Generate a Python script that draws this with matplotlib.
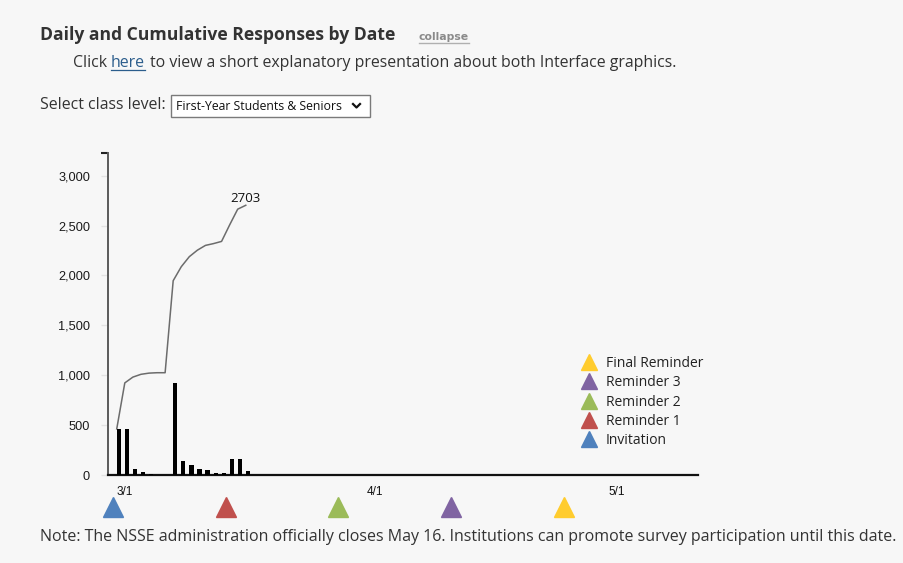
import numpy as np
import matplotlib
matplotlib.use("Agg")
import matplotlib.pyplot as plt
import matplotlib.dates as mdates
from matplotlib.ticker import FixedLocator, StrMethodFormatter, FuncFormatter
from matplotlib.lines import Line2D
from matplotlib.patches import Rectangle

# ---------------- data ----------------
response_dates = np.arange(np.datetime64("2023-02-28"), np.datetime64("2023-03-17"))
daily_responses = [462, 461, 58, 28, 12, 4, 0, 922, 140, 101, 65, 48, 18, 22, 165, 158, 39]
event_names = ["Invitation", "Reminder 1", "Reminder 2", "Reminder 3", "Final Reminder"]
event_dates = np.array(["2023-02-27", "2023-03-13", "2023-03-27", "2023-04-10", "2023-04-24"],
                       dtype="datetime64[D]")
event_colors = ["#4F81BD", "#C0504D", "#9BBB59", "#8064A2", "#FFCC2E"]
month_ticks = np.array(["2023-03-01", "2023-04-01", "2023-05-01"], dtype="datetime64[D]")
yticks = [0, 500, 1000, 1500, 2000, 2500, 3000]

cumulative = np.cumsum(daily_responses)

# ---------------- figure ----------------
W, H = 904, 563
BG = "#f7f7f7"
fig = plt.figure(figsize=(W / 100, H / 100), dpi=100, facecolor=BG)
UI = ["Open Sans", "DejaVu Sans"]
AX = ["Liberation Sans", "DejaVu Sans"]

def fx(x):
    return x / W

def fy(y):
    return 1 - y / H

# main axes (pixel box: x 108..698, y 153..475)
ax = fig.add_axes([fx(108), fy(475), (698 - 108) / W, (475 - 152.7) / H])
ax.set_facecolor("none")

ax.bar(response_dates, daily_responses, width=0.52, align="edge", color="black", zorder=3)
ax.plot(response_dates, cumulative, color="#6c6c6c", lw=1.1, zorder=2)
ax.annotate(f"{cumulative[-1]}", (response_dates[-1], cumulative[-1]), xytext=(0, 2.5),
            textcoords="offset points", ha="center", va="baseline",
            fontsize=9.5, family=UI, color="#111111")

ax.set_xlim(np.datetime64("2023-02-26T22:00"), np.datetime64("2023-05-11T02:00"))
ymax = 3230
ax.set_ylim(0, ymax)

ax.yaxis.set_major_locator(FixedLocator(yticks))
ax.yaxis.set_major_formatter(StrMethodFormatter("{x:,.0f}"))
ax.yaxis.set_minor_locator(FixedLocator([0, ymax]))
ax.tick_params(axis="y", which="major", length=5, width=1, color="#e3e3e3", pad=8,
               labelsize=9.2, labelcolor="#1a1a1a")
ax.tick_params(axis="y", which="minor", length=5, width=1.5, color="#222222")
for lab in ax.get_yticklabels():
    lab.set_family(AX)

ax.xaxis.set_major_locator(FixedLocator(mdates.date2num(month_ticks)))
ax.xaxis.set_major_formatter(FuncFormatter(
    lambda v, p: f"{mdates.num2date(v).month}/{mdates.num2date(v).day}"))
ax.tick_params(axis="x", length=0, pad=8, labelsize=8.5, labelcolor="#111111")
for lab in ax.get_xticklabels():
    lab.set_family(AX)

for s in ["top", "right"]:
    ax.spines[s].set_visible(False)
ax.spines["left"].set_color("#5a5a5a")
ax.spines["left"].set_linewidth(1.4)
ax.spines["bottom"].set_color("#111111")
ax.spines["bottom"].set_linewidth(1.6)

# event triangles under the axis
trans = ax.get_xaxis_transform()
event_centers = event_dates.astype("datetime64[h]") + np.timedelta64(12, "h")
for d, c in zip(event_centers, event_colors):
    ax.plot([d], [-0.098], marker="^", ms=14, color=c, ls="none",
            transform=trans, clip_on=False, zorder=4)

# legend
handles = [Line2D([], [], marker="^", ls="none", color=c, ms=12)
           for c in event_colors][::-1]
labels = event_names[::-1]
leg = ax.legend(handles, labels, loc="upper left", bbox_to_anchor=(fx(582), fy(356)),
                bbox_transform=fig.transFigure, frameon=False, handlelength=1.0,
                handletextpad=0.7, labelspacing=0.31, borderpad=0, borderaxespad=0,
                prop={"family": UI, "size": 10})
for t in leg.get_texts():
    t.set_color("#222222")

# ---------------- header / footer text ----------------
renderer = fig.canvas.get_renderer()

fig.text(fx(40), fy(40), "Daily and Cumulative Responses by Date", family=UI,
         fontsize=12.6, weight="bold", color="#333333", va="baseline")
tc = fig.text(fx(419), fy(39.5), "collapse", family=["DejaVu Sans"], fontsize=7.8,
              weight="bold", color="#8a8a8a", va="baseline")
bb = tc.get_window_extent(renderer)
fig.add_artist(Line2D([bb.x0 / W, bb.x1 / W], [fy(43), fy(43)], color="#b0b0b0", lw=1))

FS = 11.4
t1 = fig.text(fx(73), fy(67), "Click", family=UI, fontsize=FS, color="#333333", va="baseline")
b1 = t1.get_window_extent(renderer)
t2 = fig.text((b1.x1 + 4) / W, fy(67), "here", family=UI, fontsize=FS, color="#2b5d8c",
              va="baseline")
b2 = t2.get_window_extent(renderer)
fig.add_artist(Line2D([b2.x0 / W, b2.x1 / W], [fy(69.5), fy(69.5)], color="#2b5d8c", lw=0.9))
fig.text((b2.x1 + 4.5) / W, fy(67),
         "to view a short explanatory presentation about both Interface graphics.",
         family=UI, fontsize=FS, color="#333333", va="baseline")

fig.text(fx(40), fy(109), "Select class level:", family=UI, fontsize=FS,
         color="#333333", va="baseline")
fig.add_artist(Rectangle((fx(171), fy(117)), (370 - 171) / W, (117 - 95) / H,
                         transform=fig.transFigure, facecolor="white",
                         edgecolor="#7a7a7a", lw=1))
fig.text(fx(176), fy(110), "First-Year Students & Seniors", family=UI, fontsize=8.8,
         color="#111111", va="baseline")
fig.add_artist(Line2D([fx(353), fx(356.5), fx(360)], [fy(104), fy(107.5), fy(104)],
                      color="#111111", lw=1.6))

fig.text(fx(40), fy(541),
         "Note: The NSSE administration officially closes May 16. Institutions can promote "
         "survey participation until this date.",
         family=UI, fontsize=11.5, color="#333333", va="baseline")

fig.savefig("out.png", dpi=100, facecolor=BG)
